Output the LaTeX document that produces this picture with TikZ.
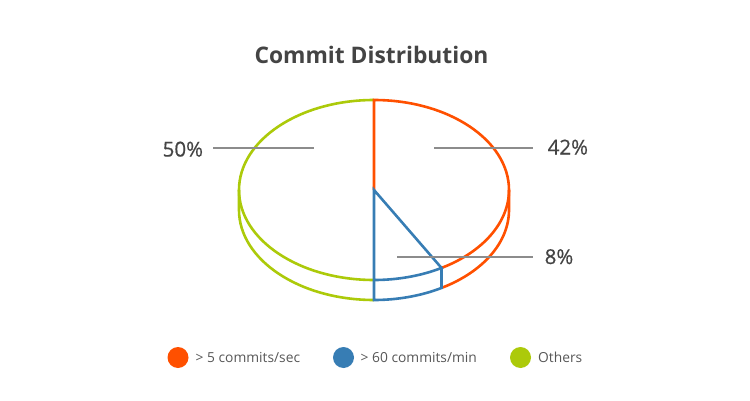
\documentclass[tikz,border=0pt]{standalone}
\usepackage{fontspec}
\setmainfont{Open Sans}
\newfontfamily\pctfont[FakeBold=0.6]{Open Sans}
\usetikzlibrary{calc}
\definecolor{cOrange}{RGB}{255,80,0}
\definecolor{cBlue}{RGB}{55,125,180}
\definecolor{cGreen}{RGB}{172,202,10}
\definecolor{cText}{RGB}{68,68,68}
\definecolor{cLead}{RGB}{140,140,140}
\begin{document}
\begin{tikzpicture}[x=1pt,y=1pt,
  slice/.style={line width=2.6pt},
  leader/.style={draw=cLead,line width=1.1pt},
  pct/.style={text=cText,font=\pctfont\fontsize{20.5}{24}\selectfont,inner sep=0pt,anchor=base west},
  legtext/.style={text=cText!90,font=\fontsize{13.8}{17}\selectfont,inner sep=0pt,anchor=base west},
  legdot/.style={circle,inner sep=0pt,minimum size=21pt},
  el/.style={x radius=135pt,y radius=90pt}]
\useasboundingbox (0,0) rectangle (750,400);
% key points
\coordinate (C) at (374,210);
\coordinate (T) at (374,300);
\coordinate (B) at (374,120);
\coordinate (L) at (239,210);
\coordinate (R) at (509,210);
\coordinate (P) at ($(C)+(-60:135pt and 90pt)$);
% green slice
\draw[slice,cGreen] (T) arc[start angle=90,end angle=270,el];
\draw[slice,cGreen] (L) -- ++(0,-20) arc[start angle=180,end angle=270,el];
% orange slice
\draw[slice,cOrange] (C) -- (T) arc[start angle=90,end angle=-60,el];
\draw[slice,cOrange] ($(P)+(0,-20)$) arc[start angle=-60,end angle=0,el] -- (R);
% blue slice
\draw[slice,cBlue] (B) -- (C) -- (P) arc[start angle=-60,end angle=-90,el];
\draw[slice,cBlue] (B) -- ++(0,-20) arc[start angle=-90,end angle=-60,el] -- (P);
% leaders
\coordinate (l1a) at (213,252); \coordinate (l1b) at (314,252);
\coordinate (l2a) at (434,252); \coordinate (l2b) at (533,252);
\coordinate (l3a) at (397,143); \coordinate (l3b) at (533,143);
\draw[leader] (l1a) -- (l1b);
\draw[leader] (l2a) -- (l2b);
\draw[leader] (l3a) -- (l3b);
% labels
\node[pct] (p50) at (162.5,243.5) {50\%};
\node[pct] (p42) at (547.5,245.5) {42\%};
\node[pct] (p8) at (544.5,136) {8\%};
% title
\node[text=cText,font=\bfseries\fontsize{22.8}{27}\selectfont,inner sep=0pt,anchor=base] (title) at (371.5,337) {Commit Distribution};
% legend
\node[legdot,fill=cOrange] (d1) at (178,42.5) {};
\node[legtext] (t1) at (195.5,38) {> 5 commits/sec};
\node[legdot,fill=cBlue] (d2) at (343.5,42.5) {};
\node[legtext] (t2) at (360.5,38) {> 60 commits/min};
\node[legdot,fill=cGreen] (d3) at (520.5,42.5) {};
\node[legtext] (t3) at (538,38) {Others};
\end{tikzpicture}
\end{document}
